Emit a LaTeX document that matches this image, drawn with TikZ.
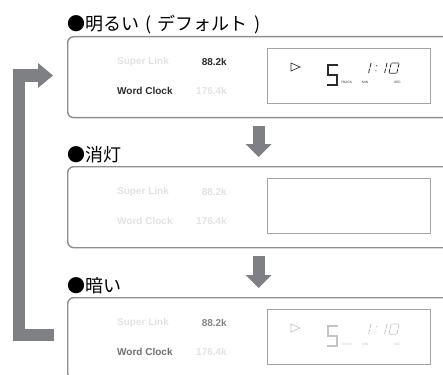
\documentclass[tikz,border=0pt]{standalone}
\usepackage{fontspec}
\setmainfont{Liberation Sans}
\newfontfamily\jpfont{Noto Sans CJK JP}
\usetikzlibrary{arrows.meta,positioning,calc}

\definecolor{arrowgray}{HTML}{7E8083}
\definecolor{framegray}{HTML}{8E8E8E}
\definecolor{lcdgray}{HTML}{A5A5A5}
\definecolor{ink}{HTML}{2B2B2B}
\definecolor{faint}{HTML}{E2E2E2}
\definecolor{dimink}{HTML}{858585}
\definecolor{dimword}{HTML}{6E6E6E}
\definecolor{dimlcd}{HTML}{C4C4C4}

\tikzset{
  panel/.style={draw=framegray, line width=1.4pt, rounded corners=6pt, minimum width=400pt, minimum height=81pt, inner sep=0pt, anchor=north west},
  lcdbox/.style={draw=lcdgray, line width=0.8pt, minimum width=163pt, minimum height=55pt, inner sep=0pt},
  modetitle/.style={font=\jpfont\fontsize{18}{18}\selectfont, inner sep=0pt},
  rate/.style={font=\bfseries\fontsize{10}{10}\selectfont, inner sep=0pt},
  lcdtag/.style={font=\fontsize{3.2}{3.2}\selectfont, inner sep=0pt, anchor=base west},
  stepdown/.style={draw=arrowgray, line width=12pt, -{Triangle[length=13pt,width=26pt,line width=0pt]}, shorten <=7.5pt, shorten >=9pt},
  loopback/.style={draw=arrowgray, line width=12.5pt, -{Triangle[length=15pt,width=25pt,line width=0pt]}},
  pics/readout/.style={code={
    \draw[line width=0.7pt] (24,15) -- (24,23) -- (33,19) -- cycle;
    \draw[line width=2.2pt] (71,17) -- (61,17) -- (61,27) -- (70,27) -- (70,37) -- (60,37);
    \draw[line width=0.8pt] (104,15) -- (103,19.5) (102.6,20.8) -- (101.6,25)
      (120,15) -- (119,19.5) (118.6,20.8) -- (117.6,25)
      (124.6,15) -- (131.6,15) (132,15.6) -- (131.1,19.6) (130.8,20.8) -- (129.9,24.8)
      (129.4,25.2) -- (122.4,25.2) (122.1,24.6) -- (122.9,20.6) (123.2,19.5) -- (124.1,15.5);
    \fill (109.7,17.8) circle (0.6pt) (108.9,22.8) circle (0.6pt);
    \node[lcdtag] (-track) at (74,36) {TRACK};
    \node[lcdtag] (-min) at (95,36) {MIN};
    \node[lcdtag] (-sec) at (127,36) {SEC};
  }},
}

\begin{document}
\begin{tikzpicture}[x=1pt, y=-1pt]
\useasboundingbox (0,0) rectangle (443,374);

% the three brightness settings
\node[panel] (bright) at (67,36) {};
\node[panel] (off) at (67,166) {};
\node[panel] (dark) at (67,297) {};

\node[modetitle, above right=5pt and 0pt of bright.north west, anchor=base west] (brighttitle) {●明るい\hspace{.35em}(\hspace{.35em}デフォルト\hspace{.35em})};
\node[modetitle, above right=5pt and 0pt of off.north west, anchor=base west] (offtitle) {●消灯};
\node[modetitle, above right=5pt and 0pt of dark.north west, anchor=base west] (darktitle) {●暗い};

% bright
\node[rate, text=faint, below right=26pt and 50pt of bright.north west, anchor=west] (brightsuper) {Super Link};
\node[rate, text=ink, below right=26pt and 160pt of bright.north west, anchor=east] (brightsuperrate) {88.2k};
\node[rate, text=ink, below right=55pt and 50pt of bright.north west, anchor=west] (brightword) {Word Clock};
\node[rate, text=faint, below right=55pt and 160pt of bright.north west, anchor=east] (brightwordrate) {176.4k};
\node[lcdbox, below right=12pt and 200pt of bright.north west] (brightlcd) {};
\pic[color=ink] (brightread) at (brightlcd.north west) {readout};

% off
\node[rate, text=faint, below right=26pt and 50pt of off.north west, anchor=west] (offsuper) {Super Link};
\node[rate, text=faint, below right=26pt and 160pt of off.north west, anchor=east] (offsuperrate) {88.2k};
\node[rate, text=faint, below right=55pt and 50pt of off.north west, anchor=west] (offword) {Word Clock};
\node[rate, text=faint, below right=55pt and 160pt of off.north west, anchor=east] (offwordrate) {176.4k};
\node[lcdbox, below right=12pt and 200pt of off.north west] (offlcd) {};

% dark
\node[rate, text=faint, below right=26pt and 50pt of dark.north west, anchor=west] (darksuper) {Super Link};
\node[rate, text=dimink, below right=26pt and 160pt of dark.north west, anchor=east] (darksuperrate) {88.2k};
\node[rate, text=dimword, below right=55pt and 50pt of dark.north west, anchor=west] (darkword) {Word Clock};
\node[rate, text=faint, below right=55pt and 160pt of dark.north west, anchor=east] (darkwordrate) {176.4k};
\node[lcdbox, below right=12pt and 200pt of dark.north west] (darklcd) {};
\pic[color=dimlcd] (darkread) at (darklcd.north west) {readout};

% arrows
\coordinate (stepx) at (258.5,0);
\draw[stepdown] (bright.south -| stepx) -- (off.north -| stepx);
\draw[stepdown] (off.south -| stepx) -- (dark.north -| stepx);

\coordinate[below left=38pt and 13pt of dark.north west] (loopout);
\coordinate[below left=39.5pt and 14pt of bright.north west] (loopin);
\draw[loopback] (loopout) -- ++(-35,0) |- (loopin);

\end{tikzpicture}
\end{document}
